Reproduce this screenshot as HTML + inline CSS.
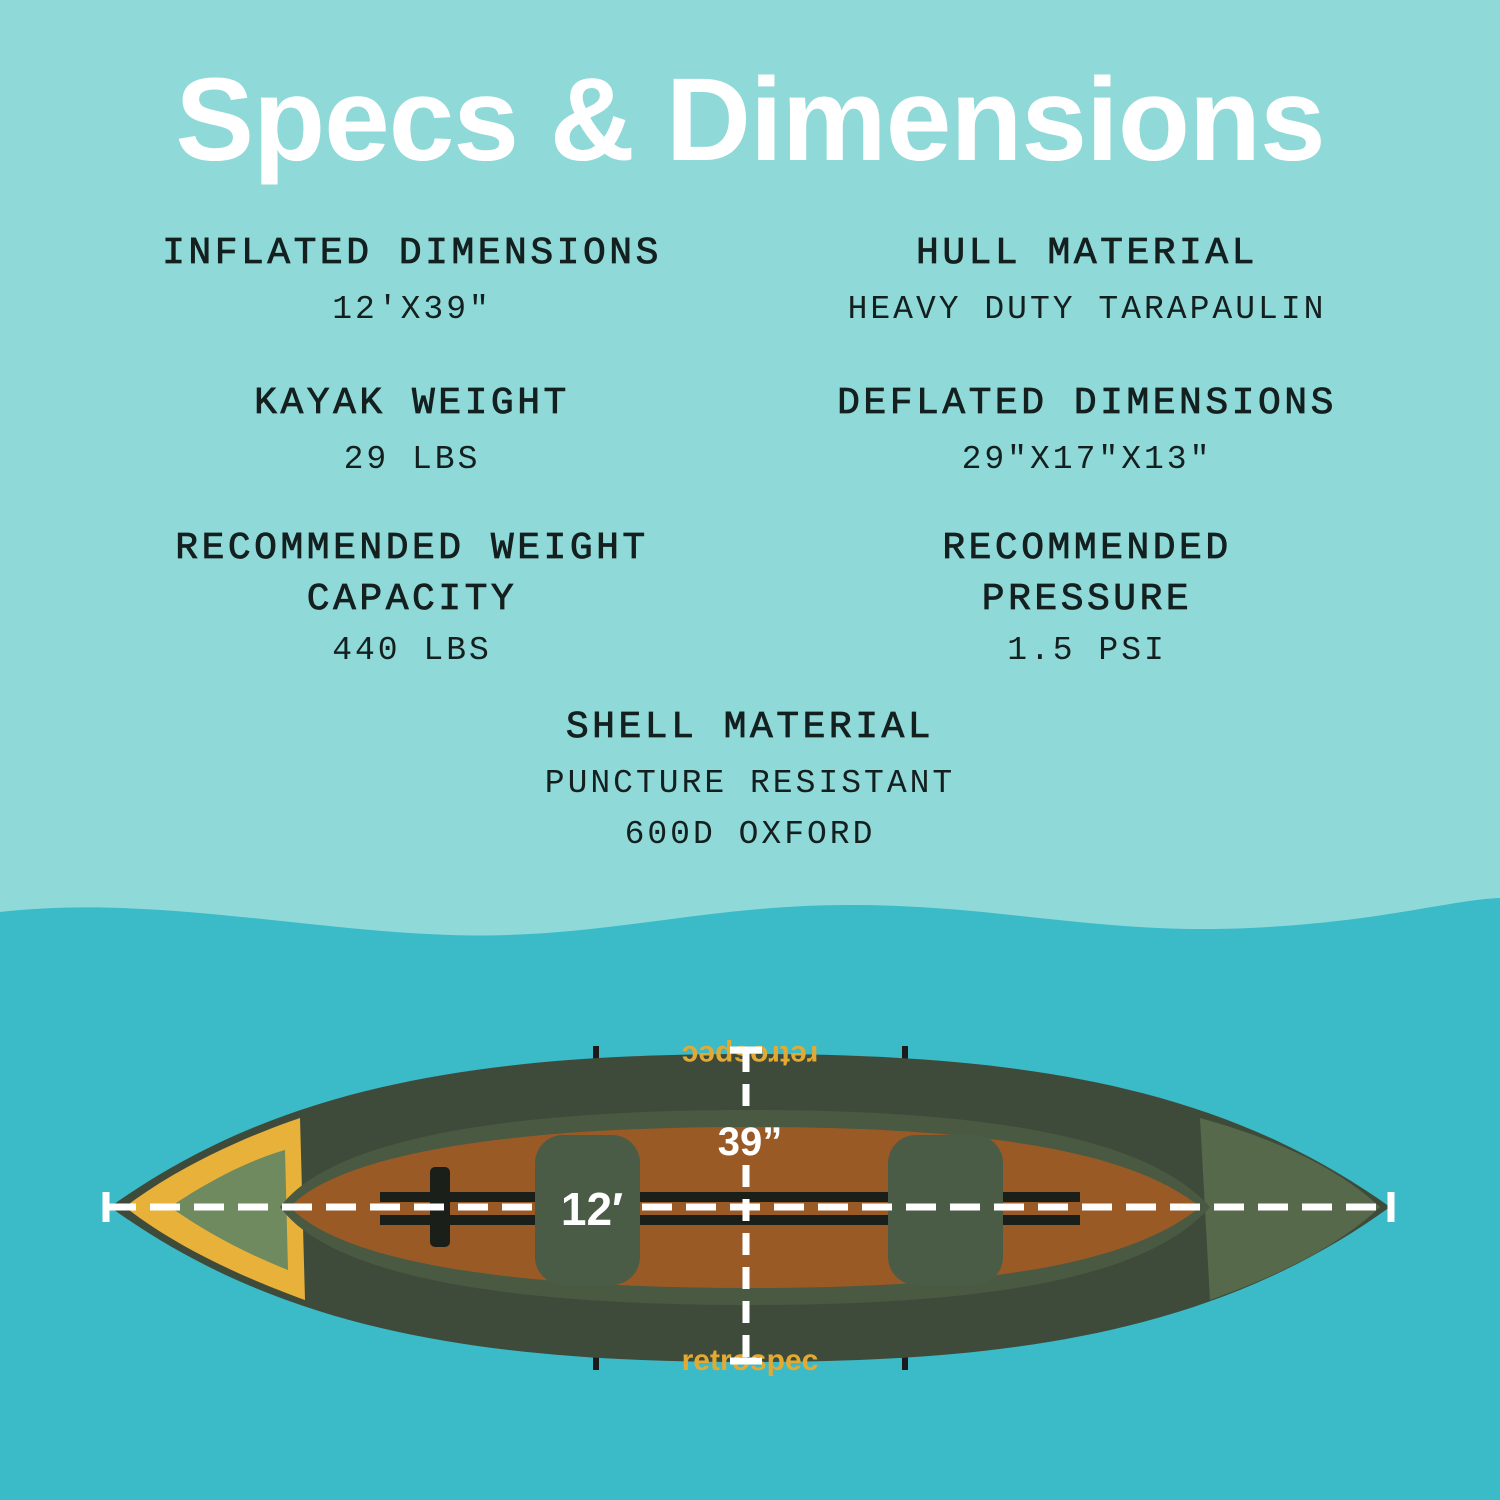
<!DOCTYPE html>
<html><head><style>
html,body{margin:0;padding:0;width:1500px;height:1500px;overflow:hidden;background:#8fd9d8}
.t{position:absolute;left:0;width:1500px;text-align:center;font:bold 118px "Liberation Sans",sans-serif;color:#fff;top:52px;letter-spacing:-1px}
.b{position:absolute;text-align:center;font-family:"Liberation Mono",monospace;color:#14201f;width:700px}
.h{font-size:38px;letter-spacing:3.5px;line-height:51px;font-weight:normal;-webkit-text-stroke:0.8px #14201f}
.v{font-size:33px;letter-spacing:3px;line-height:51px;margin-top:5px}
</style></head><body>
<div class="t">Specs &amp; Dimensions</div>
<div class="b" style="left:62px;top:228px"><div class="h">INFLATED DIMENSIONS</div><div class="v">12′X39″</div></div>
<div class="b" style="left:737px;top:228px"><div class="h">HULL MATERIAL</div><div class="v">HEAVY DUTY TARAPAULIN</div></div>
<div class="b" style="left:62px;top:378px"><div class="h">KAYAK WEIGHT</div><div class="v">29 LBS</div></div>
<div class="b" style="left:737px;top:378px"><div class="h">DEFLATED DIMENSIONS</div><div class="v">29″X17″X13″</div></div>
<div class="b" style="left:62px;top:523px"><div class="h">RECOMMENDED WEIGHT<br>CAPACITY</div><div class="v" style="margin-top:0">440 LBS</div></div>
<div class="b" style="left:737px;top:523px"><div class="h">RECOMMENDED<br>PRESSURE</div><div class="v" style="margin-top:0">1.5 PSI</div></div>
<div class="b" style="left:400px;top:702px"><div class="h">SHELL MATERIAL</div><div class="v" style="line-height:51px">PUNCTURE RESISTANT<br>600D OXFORD</div></div>
<svg style="position:absolute;left:0;top:0" width="1500" height="1500">
<path d="M0,912 C150,895 300,930 450,935 C600,940 700,905 850,905 C1000,905 1100,935 1250,928 C1380,922 1450,900 1500,898 L1500,1500 L0,1500Z" fill="#3bbac8"/>
<g stroke="#1a1a1a" stroke-width="6"><line x1="596" y1="1046" x2="596" y2="1062"/><line x1="905" y1="1046" x2="905" y2="1062"/><line x1="596" y1="1355" x2="596" y2="1370"/><line x1="905" y1="1355" x2="905" y2="1370"/></g>
<path d="M110,1207 C280,1085 480,1054 750,1054 C1020,1054 1220,1085 1390,1207 C1220,1330 1020,1362 750,1362 C480,1362 280,1330 110,1207Z" fill="#3f4b3a"/>
<path d="M125,1207 C180,1165 250,1135 300,1118 L305,1300 C250,1280 180,1250 125,1207Z" fill="#e8b13a"/>
<path d="M170,1207 C210,1180 250,1160 285,1150 L288,1270 C250,1255 210,1235 170,1207Z" fill="#6f8a5f"/>
<path d="M1200,1118 C1280,1140 1340,1170 1380,1207 C1340,1245 1280,1275 1210,1300Z" fill="#56694a"/>
<path d="M280,1207 C330,1140 500,1110 750,1110 C1000,1110 1150,1140 1210,1207 C1150,1275 1000,1305 750,1305 C500,1305 330,1275 280,1207Z" fill="#4a5942"/>
<path d="M290,1207 C340,1155 500,1127 750,1127 C980,1127 1130,1150 1200,1207 C1130,1265 980,1288 750,1288 C500,1288 340,1260 290,1207Z" fill="#9a5a26"/>
<g fill="#1b1f1a"><rect x="380" y="1192" width="700" height="10"/><rect x="380" y="1215" width="700" height="10"/><rect x="430" y="1167" width="20" height="80" rx="5"/></g>
<rect x="535" y="1135" width="105" height="150" rx="28" fill="#4b5c46"/>
<rect x="888" y="1135" width="115" height="150" rx="28" fill="#4b5c46"/>
<text x="750" y="1064" text-anchor="middle" font-family="Liberation Sans,sans-serif" font-weight="bold" font-size="30" fill="#e3aa33" transform="rotate(180 750 1055)">retrospec</text>
<text x="750" y="1370" text-anchor="middle" font-family="Liberation Sans,sans-serif" font-weight="bold" font-size="30" fill="#e3aa33">retrospec</text>
<g stroke="#fff" stroke-width="7"><line x1="106" y1="1192" x2="106" y2="1222"/><line x1="1391" y1="1192" x2="1391" y2="1222"/><line x1="730" y1="1050" x2="762" y2="1050"/><line x1="730" y1="1361" x2="762" y2="1361"/>
<line x1="106" y1="1207" x2="545" y2="1207" stroke-dasharray="30 14"/><line x1="642" y1="1207" x2="1391" y2="1207" stroke-dasharray="30 14"/>
<line x1="746" y1="1050" x2="746" y2="1118" stroke-dasharray="22 12"/><line x1="746" y1="1165" x2="746" y2="1361" stroke-dasharray="22 12"/></g>
<text x="750" y="1155" text-anchor="middle" font-family="Liberation Sans,sans-serif" font-weight="bold" font-size="40" fill="#fff">39”</text>
<text x="592" y="1225" text-anchor="middle" font-family="Liberation Sans,sans-serif" font-weight="bold" font-size="46" fill="#fff">12′</text>
</svg>
</body></html>
